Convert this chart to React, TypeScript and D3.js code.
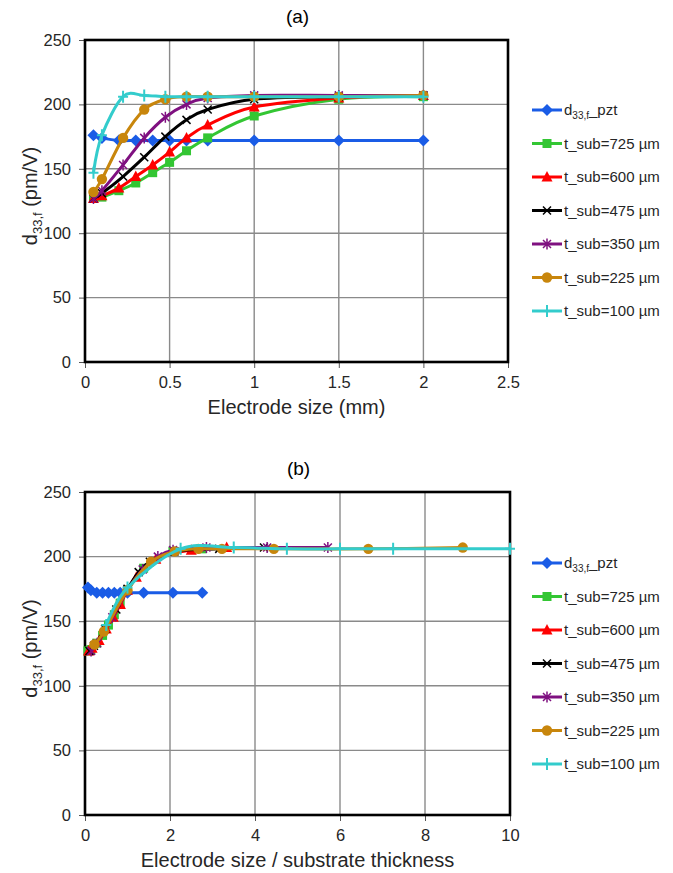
import React, { useEffect, useRef } from "react";
import * as d3 from "d3";

// electrode sizes (mm) used by the pzt / 725 / 600 curves
const sizesA = [0.05, 0.1, 0.2, 0.3, 0.4, 0.5, 0.6, 0.725, 1, 1.5, 2];
// electrode sizes (mm) used by the 475 / 350 / 225 / 100 curves
const sizesB = [0.05, 0.1, 0.225, 0.35, 0.475, 0.6, 0.725, 1, 1.5, 2];

const pzt = [176, 174, 172, 172, 172, 172, 172, 172, 172, 172, 172];
const t725 = [127, 128, 133, 139, 147, 155, 164, 174, 191, 204, 206];
const t600 = [127, 129, 135, 144, 153, 163, 174, 184, 198, 205, 207];
const t475 = [127, 131, 144, 159, 175, 188, 196, 204, 206, 207];
const t350 = [127, 133, 153, 174, 190, 200, 205, 207, 207, 207];
const t225 = [132, 142, 174, 196, 204, 206, 206, 206, 206, 207];
const t100 = [147, 176, 206, 207, 206, 206, 206, 206, 206, 206];

// substrate thickness (mm), pzt plotted against the 725 um one
const thickness = [0.725, 0.725, 0.6, 0.475, 0.35, 0.225, 0.1];
const seriesNames = ["pzt", "t_sub=725 µm", "t_sub=600 µm", "t_sub=475 µm", "t_sub=350 µm", "t_sub=225 µm", "t_sub=100 µm"];

const yTicks = [0, 50, 100, 150, 200, 250];
const xTicksA = [0, 0.5, 1, 1.5, 2, 2.5];
const xTicksB = [0, 2, 4, 6, 8, 10];

const seriesX = [sizesA, sizesA, sizesA, sizesB, sizesB, sizesB, sizesB];
const seriesY = [pzt, t725, t600, t475, t350, t225, t100];

const colors = ["#1a5ce6", "#33c633", "#ff0000", "#000000", "#7f1080", "#c8860c", "#33cccc"];
const markers = ["diamond", "square", "triangle", "x", "star", "circle", "plus"];

const FONT = "'Liberation Sans', Arial, sans-serif";

function drawMarker(g, type, color, cx, cy) {
  const m = g.append("g").attr("transform", `translate(${cx},${cy})`);
  if (type === "diamond") {
    m.append("path").attr("d", "M0,-6L6,0L0,6L-6,0Z").attr("fill", color);
  } else if (type === "square") {
    m.append("rect").attr("x", -4.5).attr("y", -4.5).attr("width", 9).attr("height", 9).attr("fill", color);
  } else if (type === "triangle") {
    m.append("path").attr("d", "M0,-6L5.5,4.5L-5.5,4.5Z").attr("fill", color);
  } else if (type === "circle") {
    m.append("circle").attr("r", 5.2).attr("fill", color);
  } else if (type === "x") {
    m.append("path").attr("d", "M-4,-4L4,4M-4,4L4,-4").attr("stroke", color).attr("stroke-width", 1.5);
  } else if (type === "star") {
    m.append("path").attr("d", "M-4,-4L4,4M-4,4L4,-4M0,-5.5L0,5.5").attr("stroke", color).attr("stroke-width", 1.5);
  } else if (type === "plus") {
    m.append("path").attr("d", "M-5,0L5,0M0,-6L0,6").attr("stroke", color).attr("stroke-width", 2);
  }
}

function drawPanel(svg, opts) {
  const { left, right, top, bottom, xMax, xTicks, ratio, title, xTitle, legendTop, clipId } = opts;
  const x = d3.scaleLinear().domain([0, xMax]).range([left, right]);
  const y = d3.scaleLinear().domain([0, 250]).range([bottom, top]);
  const g = svg.append("g");

  // gridlines
  g.append("g")
    .selectAll("line.h")
    .data(yTicks.slice(1, -1))
    .join("line")
    .attr("x1", left).attr("x2", right)
    .attr("y1", (d) => y(d)).attr("y2", (d) => y(d))
    .attr("stroke", "#8a8a8a").attr("stroke-width", 1.4);
  g.append("g")
    .selectAll("line.v")
    .data(xTicks.slice(1, -1))
    .join("line")
    .attr("y1", top).attr("y2", bottom)
    .attr("x1", (d) => x(d)).attr("x2", (d) => x(d))
    .attr("stroke", "#8a8a8a").attr("stroke-width", 1.4);

  // axes
  const ya = g.append("g").attr("transform", `translate(${left},0)`)
    .call(d3.axisLeft(y).tickValues(yTicks).tickSize(6).tickPadding(8));
  const xa = g.append("g").attr("transform", `translate(0,${bottom})`)
    .call(d3.axisBottom(x).tickValues(xTicks).tickSize(6).tickPadding(8).tickFormat(d3.format("~g")));
  [ya, xa].forEach((a) => {
    a.select(".domain").remove();
    a.selectAll("line").attr("stroke", "#555").attr("stroke-width", 1);
    a.selectAll("text").attr("font-family", FONT).attr("font-size", 16.5).attr("fill", "#262626");
  });

  // border
  g.append("rect")
    .attr("x", left).attr("y", top)
    .attr("width", right - left).attr("height", bottom - top)
    .attr("fill", "none").attr("stroke", "#000").attr("stroke-width", 2.6);

  svg.append("clipPath").attr("id", clipId)
    .append("rect").attr("x", left).attr("y", top - 10).attr("width", right - left).attr("height", bottom - top + 10);

  const line = d3.line().curve(d3.curveCardinal.tension(0)).x((d) => x(d[0])).y((d) => y(d[1]));

  seriesY.forEach((vals, i) => {
    const pts = vals.map((v, j) => [ratio ? seriesX[i][j] / thickness[i] : seriesX[i][j], v]);
    const sg = g.append("g");
    sg.append("path")
      .attr("d", line(pts))
      .attr("fill", "none")
      .attr("stroke", colors[i])
      .attr("stroke-width", 3)
      .attr("clip-path", `url(#${clipId})`);
    pts.filter((p) => p[0] <= xMax + 1e-9).forEach((p) => drawMarker(sg, markers[i], colors[i], x(p[0]), y(p[1])));
  });

  // titles
  svg.append("text")
    .attr("x", (left + right) / 2 + 1).attr("y", top - 17)
    .attr("text-anchor", "middle").attr("font-family", FONT).attr("font-size", 19).attr("fill", "#000")
    .text(title);
  svg.append("text")
    .attr("x", (left + right) / 2).attr("y", bottom + 52)
    .attr("text-anchor", "middle").attr("font-family", FONT).attr("font-size", 20).attr("fill", "#262626")
    .text(xTitle);
  const yt = svg.append("text")
    .attr("transform", `translate(37,${(top + bottom) / 2 - 5}) rotate(-90)`)
    .attr("text-anchor", "middle").attr("font-family", FONT).attr("font-size", 20).attr("fill", "#262626");
  yt.append("tspan").text("d");
  yt.append("tspan").attr("font-size", 13).attr("dy", 5).text("33,f");
  yt.append("tspan").attr("dy", -5).text(" (pm/V)");

  // legend
  const lg = svg.append("g");
  seriesNames.forEach((name, i) => {
    const ly = legendTop + i * 33.5;
    lg.append("line").attr("x1", 532).attr("x2", 562).attr("y1", ly).attr("y2", ly)
      .attr("stroke", colors[i]).attr("stroke-width", 3);
    drawMarker(lg, markers[i], colors[i], 547, ly);
    const t = lg.append("text").attr("x", 564).attr("y", ly + 5)
      .attr("font-family", FONT).attr("font-size", 15).attr("fill", "#262626");
    if (i === 0) {
      t.append("tspan").text("d");
      t.append("tspan").attr("font-size", 10).attr("dy", 4).text("33,f");
      t.append("tspan").attr("dy", -4).text("_pzt");
    } else {
      t.text(name);
    }
  });
}

const Chart = () => {
  const ref = useRef(null);

  useEffect(() => {
    const svg = d3.select(ref.current);
    svg.selectAll("*").remove();
    drawPanel(svg, {
      left: 85, right: 508, top: 40, bottom: 362,
      xMax: 2.5, xTicks: xTicksA, ratio: false,
      title: "(a)", xTitle: "Electrode size (mm)", legendTop: 110, clipId: "clipA",
    });
    drawPanel(svg, {
      left: 85, right: 510, top: 492, bottom: 815,
      xMax: 10, xTicks: xTicksB, ratio: true,
      title: "(b)", xTitle: "Electrode size / substrate thickness", legendTop: 563, clipId: "clipB",
    });
  });

  return (
    <svg ref={ref} width={673} height={873}
      style={{ position: "absolute", left: 0, top: 0, background: "#fff" }} />
  );
};

export default function App() {
  return <Chart />;
}
